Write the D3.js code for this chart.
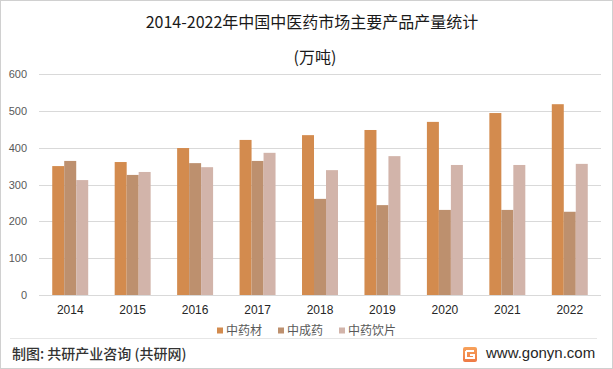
<!DOCTYPE html>
<html><head><meta charset="utf-8">
<script src="https://cdn.jsdelivr.net/npm/d3@7"></script>
<style>
html,body{margin:0;padding:0;background:#fff;}
svg{display:block;font-family:"Noto Sans CJK SC","Microsoft YaHei",sans-serif;}
</style></head>
<body>
<svg id="c" width="613" height="369"></svg>
<script>
const years = ["2014","2015","2016","2017","2018","2019","2020","2021","2022"];
const seriesNames = ["中药材","中成药","中药饮片"];
const herbs   = [350, 361, 399, 421, 434, 448, 470, 494, 518];
const patent  = [364, 326, 358, 364, 261, 244, 231, 231, 226];
const pieces  = [312, 334, 347, 386, 339, 377, 353, 353, 356];
const yTicks = [0,100,200,300,400,500,600];
const colors = ["#D38B4E","#BD906E","#D2B4AA"];
const title1 = "2014-2022年中国中医药市场主要产品产量统计";
const title2 = "(万吨)";
const footerLeft = "制图: 共研产业咨询 (共研网)";
const footerRight = "www.gonyn.com";

const values = [herbs, patent, pieces];
const svg = d3.select("#c");

// frame
svg.append("rect").attr("x",0.5).attr("y",0.5).attr("width",612).attr("height",368)
  .attr("fill","#fff").attr("stroke","#d0d0d0");

const x = d3.scaleBand().domain(years).range([39,601]).paddingInner(0.424).paddingOuter(0.212);
const x1 = d3.scaleBand().domain(seriesNames).range([0, x.bandwidth()]);
const y = d3.scaleLinear().domain([0,600]).range([295,74]);

// gridlines
svg.append("g").selectAll("line").data(yTicks).join("line")
  .attr("x1",39).attr("x2",601)
  .attr("y1",d=>Math.round(y(d))+0.5).attr("y2",d=>Math.round(y(d))+0.5)
  .attr("stroke","#d9d9d9").attr("stroke-width",1);

// y labels
const yAxis = d3.axisLeft(y).tickValues(yTicks).tickSize(0).tickPadding(0);
const yg = svg.append("g").attr("transform","translate(27,0)").call(yAxis);
yg.select(".domain").remove();
yg.selectAll("text").attr("fill","#595959").attr("font-size","11px")
  .attr("font-family","'Liberation Sans',Arial,sans-serif");

// bars
const groups = svg.append("g").selectAll("g").data(years).join("g")
  .attr("transform",d=>`translate(${x(d)},0)`);
groups.selectAll("rect").data((d,i)=>seriesNames.map((s,k)=>({s,k,v:values[k][i]}))).join("rect")
  .attr("x",d=>x1(d.s)).attr("width",x1.bandwidth())
  .attr("y",d=>y(d.v)).attr("height",d=>y(0)-y(d.v))
  .attr("fill",d=>colors[d.k]);

// x labels
const xAxis = d3.axisBottom(x).tickSize(0).tickPadding(0);
const xg = svg.append("g").attr("transform","translate(0,305)").call(xAxis);
xg.select(".domain").remove();
xg.selectAll("text").attr("fill","#262626").attr("font-size","12px")
  .attr("font-family","'Liberation Sans',Arial,sans-serif");

// title
svg.append("text").attr("x",312).attr("y",28).attr("text-anchor","middle")
  .attr("font-size","16px").attr("fill","#1a1a1a").text(title1);
svg.append("text").attr("x",315).attr("y",63).attr("text-anchor","middle")
  .attr("font-size","16px").attr("fill","#1a1a1a").text(title2);

// legend
const legX = [217, 278, 339];
const leg = svg.append("g").selectAll("g").data(seriesNames).join("g")
  .attr("transform",(d,i)=>`translate(${legX[i]},0)`);
leg.append("rect").attr("x",0).attr("y",327.5).attr("width",6).attr("height",6)
  .attr("fill",(d,i)=>colors[i]);
leg.append("text").attr("x",9).attr("y",335).attr("font-size","12px")
  .attr("fill","#595959").text(d=>d);

// separator
svg.append("line").attr("x1",10).attr("x2",597).attr("y1",338.5).attr("y2",338.5)
  .attr("stroke","#e6e6e6");

// footer
svg.append("text").attr("x",12).attr("y",359).attr("font-size","14px")
  .attr("font-weight","500").attr("fill","#333").text(footerLeft);

const defs = svg.append("defs");
const gr = defs.append("linearGradient").attr("id","lg").attr("x1","0").attr("y1","0").attr("x2","0").attr("y2","1");
gr.append("stop").attr("offset","0").attr("stop-color","#F7A25B");
gr.append("stop").attr("offset","1").attr("stop-color","#EE7A45");
const logo = svg.append("g").attr("transform","translate(463,347)");
logo.append("rect").attr("width",14).attr("height",15).attr("rx",2).attr("fill","url(#lg)");
logo.append("path").attr("d","M3,4 H11 M3,4 V11 H11 V8 H7").attr("stroke","#fff")
  .attr("stroke-width",2).attr("fill","none");
svg.append("text").attr("x",486).attr("y",358).attr("font-size","15px")
  .attr("font-family","'Liberation Sans',Arial,sans-serif").attr("fill","#262626").text(footerRight);
</script>
</body></html>
